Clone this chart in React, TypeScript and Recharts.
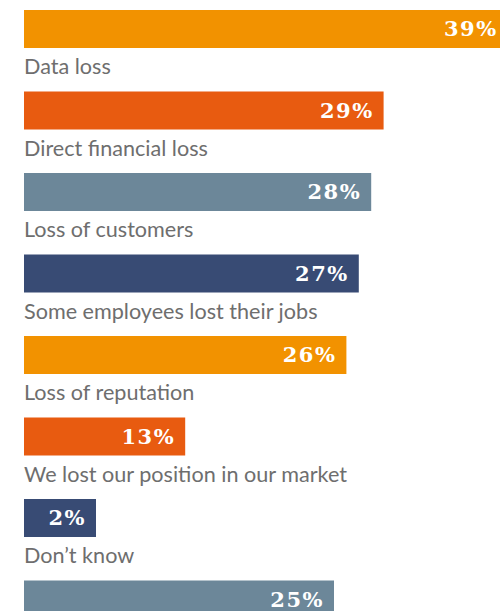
// Horizontal bar chart: consequences of an incident, share of respondents.
// Each bar carries its value inside, the category name sits underneath.

import React from 'react'
import { BarChart, Bar, XAxis, YAxis, Cell, LabelList } from 'recharts'

const CATEGORIES = [
  'Data loss',
  'Direct financial loss',
  'Loss of customers',
  'Some employees lost their jobs',
  'Loss of reputation',
  'We lost our position in our market',
  'Don’t know',
  'Other',
]
const VALUES = [39, 29, 28, 27, 26, 13, 2, 25]
const BAR_COLORS = ['#f29200', '#e85b10', '#6c8799', '#384b74', '#f29200', '#e85b10', '#384b74', '#6c8799']

const data = CATEGORIES.map((name, i) => ({ name, value: VALUES[i] }))

const LABEL_FONT = 'Lato, "Noto Sans", sans-serif'
const VALUE_FONT = '"DejaVu Serif", serif'

function CategoryLabel(props: any) {
  const { x, y, height, value } = props
  return (
    <text
      x={Number(x)}
      y={Number(y) + Number(height) + 26}
      fill="#6e6e6e"
      fontSize={21.6}
      fontFamily={LABEL_FONT}
    >
      {value}
    </text>
  )
}

export default function App() {
  return (
    <div style={{ position: 'absolute', left: 0, top: 0, width: 500, height: 611, overflow: 'hidden', background: '#fff' }}>
      <div style={{ position: 'absolute', left: 0, top: -12 }}>
        <BarChart
          width={530}
          height={652}
          data={data}
          layout="vertical"
          margin={{ top: 0, right: 10, left: 24, bottom: 0 }}
        >
          <XAxis type="number" domain={[0, 40]} hide />
          <YAxis type="category" dataKey="name" hide />
          <Bar dataKey="value" barSize={38} minPointSize={72} isAnimationActive={false}>
            {data.map((d, i) => (
              <Cell key={d.name} fill={BAR_COLORS[i]} />
            ))}
            <LabelList
              dataKey="value"
              position="insideRight"
              offset={10}
              formatter={(v: any) => `${v}%`}
              fill="#fff"
              fontSize={21}
              fontWeight="bold"
              letterSpacing={1.5}
              fontFamily={VALUE_FONT}
            />
            <LabelList dataKey="name" content={CategoryLabel} />
          </Bar>
        </BarChart>
      </div>
    </div>
  )
}
